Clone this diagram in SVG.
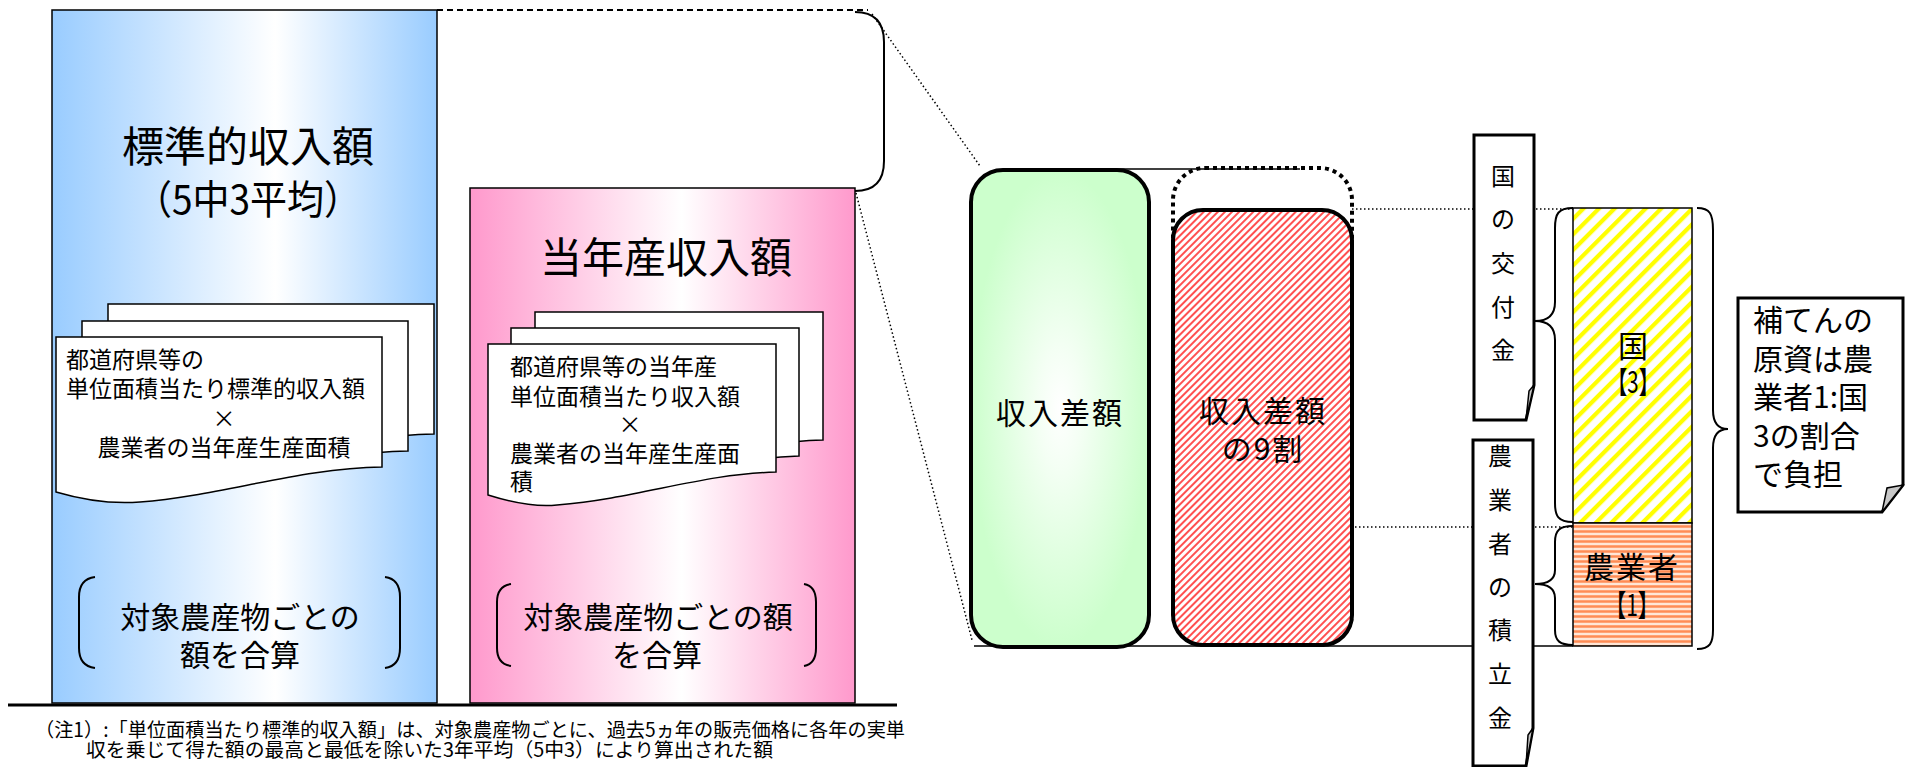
<svg xmlns="http://www.w3.org/2000/svg" width="1906" height="767" viewBox="0 0 1906 767">
<style>
text{font-family:"Noto Sans CJK JP","Noto Sans",sans-serif;fill:#000;}
.t42{font-size:42px;text-anchor:middle;}
.t23{font-size:23px;}
.t30m{font-size:30px;text-anchor:middle;}
.v{font-size:24px;text-anchor:middle;}
.note{font-size:19.5px;}
.ln{stroke:#000;fill:none;}
.dot{stroke:#000;stroke-width:1.5;stroke-dasharray:1.5 2.5;fill:none;}
.doc{fill:#fff;stroke:#000;stroke-width:1.5;}
.br{fill:none;stroke:#000;stroke-width:2;}
</style>
<defs>
<linearGradient id="gBlue" x1="0" y1="0" x2="1" y2="0">
<stop offset="0" stop-color="#99CCFF"/><stop offset="0.58" stop-color="#FFFFFF"/><stop offset="1" stop-color="#99CCFF"/>
</linearGradient>
<linearGradient id="gPink" x1="0" y1="0" x2="1" y2="0">
<stop offset="0" stop-color="#FF99CC"/><stop offset="0.55" stop-color="#FFFFFF"/><stop offset="1" stop-color="#FF99CC"/>
</linearGradient>
<radialGradient id="gGreen" cx="0.5" cy="0.5" r="0.5">
<stop offset="0" stop-color="#FFFFFF"/><stop offset="0.25" stop-color="#F4FFF4"/><stop offset="1" stop-color="#CCFFCC"/>
</radialGradient>
<pattern id="pRed" width="5" height="5" patternUnits="userSpaceOnUse" patternTransform="rotate(45)">
<rect width="5" height="5" fill="#fff"/><line x1="1" y1="0" x2="1" y2="5" stroke="#FF5050" stroke-width="2"/>
</pattern>
<pattern id="pYel" width="11" height="11" patternUnits="userSpaceOnUse" patternTransform="rotate(45)">
<rect width="11" height="11" fill="#fff"/><line x1="2" y1="0" x2="2" y2="11" stroke="#FFFF00" stroke-width="4.5"/>
</pattern>
<pattern id="pOra" width="6" height="5" patternUnits="userSpaceOnUse">
<rect width="6" height="5" fill="#FFE6D6"/><line x1="0" y1="1.5" x2="6" y2="1.5" stroke="#FF8C55" stroke-width="2.5"/>
</pattern>
<path id="docB" d="M56,337 H382 V467 C300,468 220,496 140,502 C115,504 90,502 56,492 Z"/>
<path id="docP" d="M488,344 H776 V472 C700,474 640,498 557,505 C540,507 520,505 488,495 Z"/>
</defs>

<g id="connectors">
<line class="ln" x1="8" y1="705" x2="897" y2="705" stroke-width="3"/>
<line class="ln" x1="437" y1="10" x2="868" y2="10" stroke-width="2" stroke-dasharray="6 4"/>
<path class="ln" stroke-width="2" d="M855,12 Q884,12 884,42 V161 Q884,191 855,191"/>
<line class="dot" x1="872" y1="14" x2="980" y2="166"/>
<line class="dot" x1="856" y1="193" x2="972" y2="640"/>
<line class="ln" stroke-width="1.5" x1="1100" y1="169" x2="1300" y2="169"/>
<line class="ln" stroke-width="1.5" x1="974" y1="646" x2="1573" y2="646"/>
<line class="dot" x1="1352" y1="209" x2="1573" y2="209"/>
<line class="dot" x1="1355" y1="527" x2="1573" y2="527"/>
<path class="br" d="M1573,208 C1558,208 1555,214 1555,228 V302 C1555,315 1548,321 1535,321 C1548,321 1555,327 1555,340 V503 C1555,516 1558,522 1573,522"/>
<path class="br" d="M1573,526 C1560,526 1555,530 1555,542 V570 C1555,580 1548,584 1535,584 C1548,584 1555,588 1555,598 V630 C1555,641 1560,645 1573,645"/>
<path class="br" d="M1697,208 C1710,208 1713,214 1713,230 V410 C1713,423 1718,429 1728,429 C1718,429 1713,435 1713,448 V630 C1713,643 1710,649 1697,649"/>
</g>

<g id="node-standard">
<rect x="52" y="10" width="385" height="693" fill="url(#gBlue)" stroke="#000" stroke-width="1.5"/>
<text class="t42"><tspan x="248" y="162">標準的収入額</tspan><tspan x="248" y="214" font-size="40" textLength="226" lengthAdjust="spacingAndGlyphs">（5中3平均）</tspan></text>
<use href="#docB" class="doc" transform="translate(52 -33)"/>
<use href="#docB" class="doc" transform="translate(26 -16)"/>
<use href="#docB" class="doc"/>
<text class="t23"><tspan x="66" y="368">都道府県等の</tspan><tspan x="66" y="397">単位面積当たり標準的収入額</tspan><tspan x="224" y="427" text-anchor="middle">×</tspan><tspan x="224" y="456" text-anchor="middle">農業者の当年産生産面積</tspan></text>
<path class="br" d="M95,577 Q79,579 79,597 V648 Q79,666 95,668"/>
<path class="br" d="M385,577 Q400,579 400,597 V648 Q400,666 385,668"/>
<text class="t30m"><tspan x="240" y="628">対象農産物ごとの</tspan><tspan x="240" y="666">額を合算</tspan></text>
</g>

<g id="node-current">
<rect x="470" y="188" width="385" height="515" fill="url(#gPink)" stroke="#000" stroke-width="1.5"/>
<text class="t42" x="666" y="273">当年産収入額</text>
<use href="#docP" class="doc" transform="translate(47 -32)"/>
<use href="#docP" class="doc" transform="translate(23 -16)"/>
<use href="#docP" class="doc"/>
<text class="t23"><tspan x="510" y="375">都道府県等の当年産</tspan><tspan x="510" y="405">単位面積当たり収入額</tspan><tspan x="630" y="433" text-anchor="middle">×</tspan><tspan x="510" y="462">農業者の当年産生産面</tspan><tspan x="510" y="490">積</tspan></text>
<path class="br" d="M511,584 Q497,586 497,602 V648 Q497,664 511,666"/>
<path class="br" d="M804,584 Q816,586 816,602 V648 Q816,664 804,666"/>
<text class="t30m"><tspan x="658" y="628">対象農産物ごとの額</tspan><tspan x="657" y="666">を合算</tspan></text>
</g>

<g id="node-diff">
<rect x="971" y="170" width="178" height="477" rx="32" fill="url(#gGreen)" stroke="#000" stroke-width="4"/>
<text class="t30m" x="1060" y="424" letter-spacing="2">収入差額</text>
</g>

<g id="node-diff90">
<rect x="1173" y="168" width="179" height="477" rx="32" fill="none" stroke="#000" stroke-width="4" stroke-dasharray="4 4"/>
<rect x="1173" y="210" width="179" height="435" rx="30" fill="url(#pRed)" stroke="#000" stroke-width="4"/>
<text class="t30m" letter-spacing="2"><tspan x="1263" y="422">収入差額</tspan><tspan x="1263" y="460">の9割</tspan></text>
</g>

<g id="node-kuni-bar">
<rect x="1573" y="208" width="119" height="315" fill="url(#pYel)" stroke="#000" stroke-width="1.5"/>
<text class="t30m" font-size="26"><tspan x="1633" y="357">国</tspan><tspan x="1633" y="393" textLength="52" lengthAdjust="spacingAndGlyphs">【3】</tspan></text>
</g>

<g id="node-farmer-bar">
<rect x="1573" y="523" width="119" height="123" fill="url(#pOra)" stroke="#000" stroke-width="1.5"/>
<text class="t30m" font-size="28"><tspan x="1632" y="578" letter-spacing="2">農業者</tspan><tspan x="1632" y="616" textLength="54" lengthAdjust="spacingAndGlyphs">【1】</tspan></text>
</g>

<g id="node-kuni-label">
<path d="M1474,135 H1534 V385 L1526,420 H1474 Z" fill="#fff" stroke="#000" stroke-width="3"/>
<path d="M1534,385 L1526,420 L1529,391 Z" fill="#c8c8c8" stroke="#000" stroke-width="1.5"/>
<text class="v"><tspan x="1503" y="185">国</tspan><tspan x="1503" y="228">の</tspan><tspan x="1503" y="272">交</tspan><tspan x="1503" y="316">付</tspan><tspan x="1503" y="359">金</tspan></text>
</g>

<g id="node-farmer-label">
<path d="M1473,440 H1533 V728 L1526,766 H1473 Z" fill="#fff" stroke="#000" stroke-width="3"/>
<path d="M1533,728 L1526,766 L1528,735 Z" fill="#c8c8c8" stroke="#000" stroke-width="1.5"/>
<text class="v"><tspan x="1500" y="465">農</tspan><tspan x="1500" y="509">業</tspan><tspan x="1500" y="553">者</tspan><tspan x="1500" y="596">の</tspan><tspan x="1500" y="639">積</tspan><tspan x="1500" y="683">立</tspan><tspan x="1500" y="727">金</tspan></text>
</g>

<g id="node-note-callout">
<path d="M1738,298 H1903 V485 L1882,512 H1738 Z" fill="#fff" stroke="#000" stroke-width="3"/>
<path d="M1903,485 L1882,512 L1887,488 Z" fill="#c8c8c8" stroke="#000" stroke-width="1.5"/>
<text font-size="30"><tspan x="1753" y="331">補てんの</tspan><tspan x="1753" y="370">原資は農</tspan><tspan x="1753" y="408">業者1:国</tspan><tspan x="1753" y="447">3の割合</tspan><tspan x="1753" y="485">で負担</tspan></text>
</g>

<g id="footnote">
<text class="note"><tspan x="35" y="737" textLength="870" lengthAdjust="spacingAndGlyphs">（注1）:「単位面積当たり標準的収入額」は、対象農産物ごとに、過去5ヵ年の販売価格に各年の実単</tspan><tspan x="86" y="757" textLength="687" lengthAdjust="spacingAndGlyphs">収を乗じて得た額の最高と最低を除いた3年平均（5中3）により算出された額</tspan></text>
</g>
</svg>
